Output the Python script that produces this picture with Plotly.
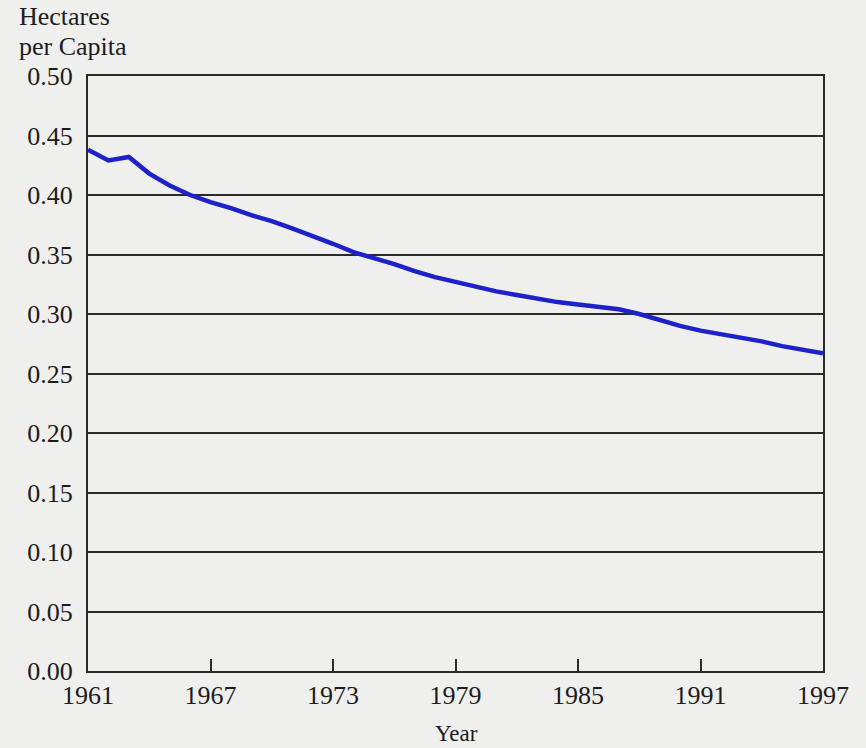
import plotly.graph_objs as go

# hectares of cropland per capita, world, 1961-1997
years = list(range(1961, 1998))
hectares = [0.438, 0.429, 0.432, 0.418, 0.408, 0.400, 0.394, 0.389, 0.383, 0.378,
            0.372, 0.366, 0.359, 0.352, 0.347, 0.342, 0.336, 0.331, 0.327, 0.323,
            0.319, 0.316, 0.313, 0.310, 0.308, 0.306, 0.304, 0.300, 0.295, 0.290,
            0.286, 0.283, 0.280, 0.277, 0.273, 0.270, 0.267]
x_ticks = [1961, 1967, 1973, 1979, 1985, 1991, 1997]
y_ticks = [0.00, 0.05, 0.10, 0.15, 0.20, 0.25, 0.30, 0.35, 0.40, 0.45, 0.50]

serif = "Liberation Serif, Times New Roman, serif"
paper = "#efefed"
ink = "#2a2a2a"

layout = go.Layout(plot_bgcolor=paper,
                   paper_bgcolor=paper,
                   font=dict(family=serif, size=26, color="#1c1c1c"),
                   width=866, height=748,
                   margin=dict(t=76, b=77, l=88, r=43, autoexpand=False),
                   showlegend=False)

fig = go.Figure(layout=layout)
fig.add_trace(go.Scatter(x=years, y=hectares, mode="lines",
                         line=dict(color="#1c22c8", width=4.5),
                         hoverinfo="x+y"))

fig.update_xaxes(range=[1961, 1997], tickvals=x_ticks, showgrid=False,
                 zeroline=False, showline=True, linecolor=ink, linewidth=2,
                 mirror=True, ticks="inside", ticklen=12, tickwidth=1.5,
                 tickcolor=ink, ticklabelstandoff=0, automargin=False)
fig.update_yaxes(range=[0, 0.5], tickvals=y_ticks, tickformat=".2f",
                 showgrid=True, gridcolor=ink, gridwidth=1.5,
                 zeroline=False, showline=True, linecolor=ink, linewidth=2,
                 mirror=True, ticks="", ticklabelstandoff=8, automargin=False)

# two-line axis caption above the plot, a bit tighter than plotly's line height
fig.add_annotation(text="Hectares", xref="paper", yref="paper",
                   x=-0.097, y=1.0, yshift=60, xanchor="left", yanchor="middle",
                   showarrow=False)
fig.add_annotation(text="per Capita", xref="paper", yref="paper",
                   x=-0.097, y=1.0, yshift=30, xanchor="left", yanchor="middle",
                   showarrow=False)
fig.add_annotation(text="Year", xref="paper", yref="paper",
                   x=0.502, y=0.0, yshift=-62, xanchor="center", yanchor="middle",
                   showarrow=False, font=dict(size=23))

fig.write_html("out.html", config={"displayModeBar": False},
               post_script="document.body.style.margin='0';")
